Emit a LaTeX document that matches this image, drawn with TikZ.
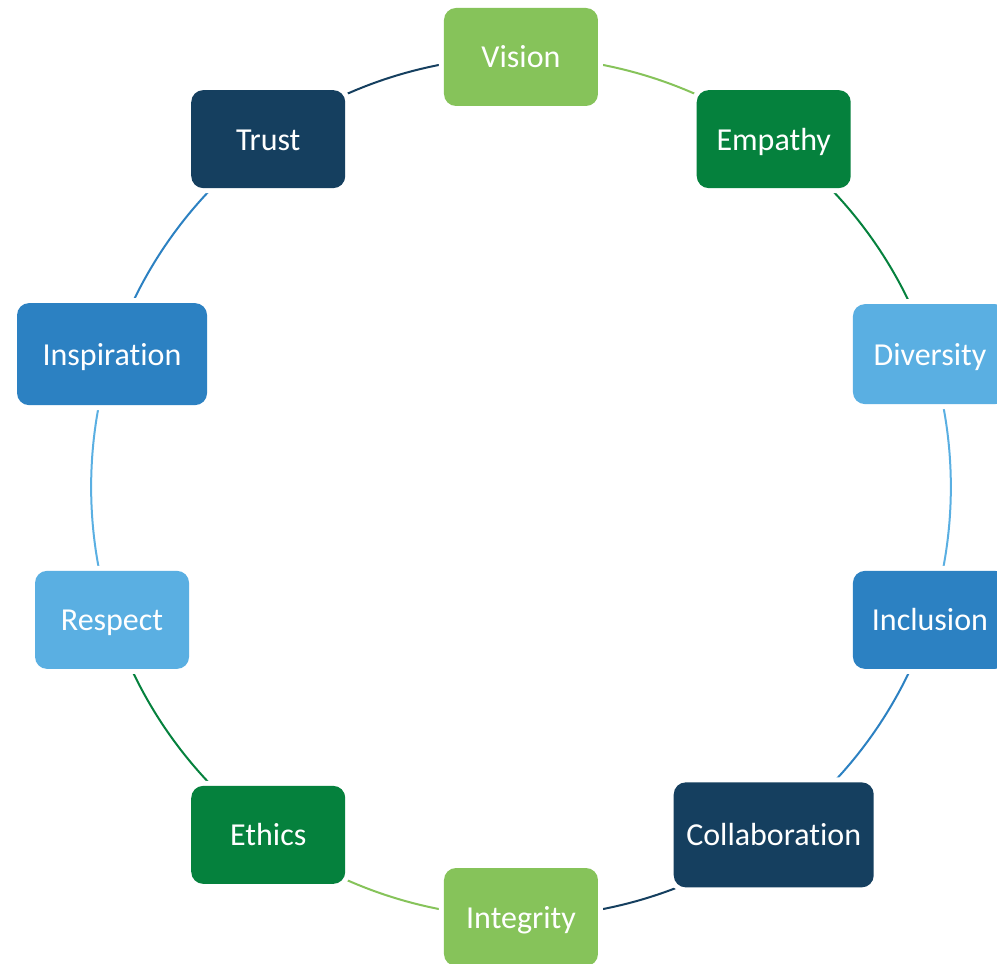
\documentclass[tikz,border=0pt]{standalone}
\usepackage{fontspec}
\setmainfont{Carlito}[Ligatures=NoCommon]
\usetikzlibrary{backgrounds}
\definecolor{lightgreen}{HTML}{86C35A}
\definecolor{darkgreen}{HTML}{05813D}
\definecolor{navy}{HTML}{153F5F}
\definecolor{midblue}{HTML}{2C81C2}
\definecolor{skyblue}{HTML}{5AAFE2}

\begin{document}
\begin{tikzpicture}[x=1pt,y=1pt,
		value/.style={rectangle,rounded corners=12pt,inner sep=0pt,minimum width=154pt,minimum height=98pt,preaction={draw=white,line width=10pt},text=white,text height=27pt,text depth=5pt,font=\fontsize{32}{38}\selectfont},
		link/.style={line width=2pt,bend left=18,looseness=0.87}]
		\useasboundingbox (-521,-477) rectangle (476,487);
		\node[value,fill=lightgreen] (vision) at (90:430) {Vision};
		\node[value,fill=darkgreen] (empathy) at (54:430) {Empathy};
		\node[value,fill=skyblue,minimum height=100pt] (diversity) at (18:430) {Diversity};
		\node[value,fill=midblue] (inclusion) at (-18:430) {Inclusion};
		\node[value,fill=navy,minimum width=200pt,minimum height=105pt] (collaboration) at (-54:430) {Collaboration};
		\node[value,fill=lightgreen] (integrity) at (-90:430) {Integrity};
		\node[value,fill=darkgreen] (ethics) at (-126:430) {Ethics};
		\node[value,fill=skyblue] (respect) at (-162:430) {Respect};
		\node[value,fill=midblue,minimum width=190pt,minimum height=102pt] (inspiration) at (162:430) {Inspiration};
		\node[value,fill=navy] (trust) at (126:430) {Trust};
		\begin{pgfonlayer}{background}
			\draw[link,lightgreen] (vision.center) to (empathy.center);
			\draw[link,darkgreen] (empathy.center) to (diversity.center);
			\draw[link,skyblue] (diversity.center) to (inclusion.center);
			\draw[link,midblue] (inclusion.center) to (collaboration.center);
			\draw[link,navy] (collaboration.center) to (integrity.center);
			\draw[link,lightgreen] (integrity.center) to (ethics.center);
			\draw[link,darkgreen] (ethics.center) to (respect.center);
			\draw[link,skyblue] (respect.center) to (inspiration.center);
			\draw[link,midblue] (inspiration.center) to (trust.center);
			\draw[link,navy] (trust.center) to (vision.center);
		\end{pgfonlayer}
\end{tikzpicture}
\end{document}
